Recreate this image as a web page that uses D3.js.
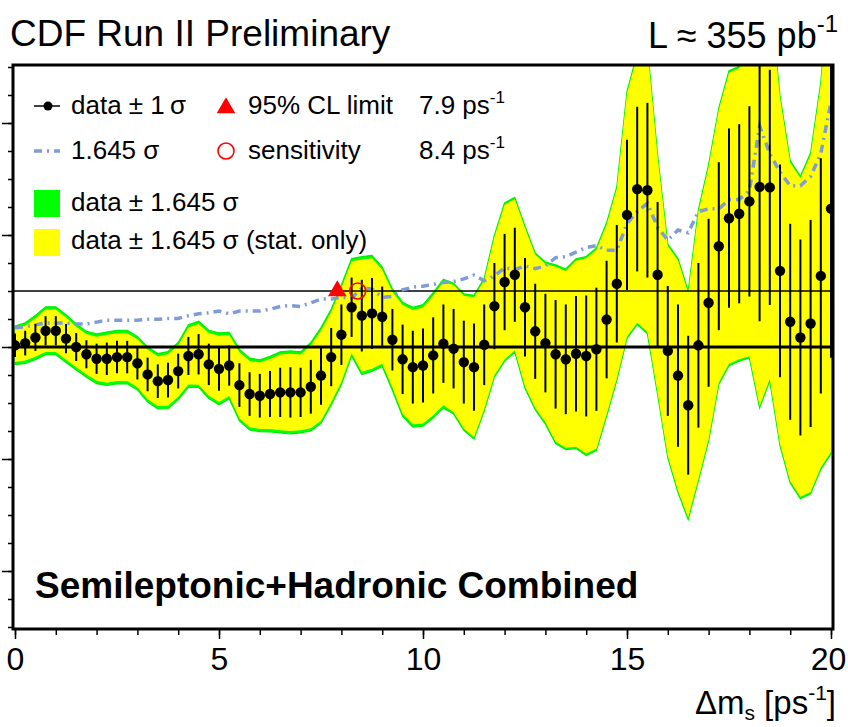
<!DOCTYPE html>
<html>
<head>
<meta charset="utf-8">
<script src="https://cdn.jsdelivr.net/npm/d3@7"></script>
<style>
  body { margin: 0; background: #fff; }
  svg { display: block; }
  text { font-family: "Liberation Sans", Arial, Helvetica, sans-serif; fill: #000; }
</style>
</head>
<body>
<svg id="chart" width="848" height="727"></svg>
<script>
// Amplitude scan: Delta m_s points every 0.25 ps^-1
const dms = d3.range(81).map(i => i * 0.25);

const amplitude = [
  0.03, 0.07, 0.17, 0.29, 0.29, 0.15, 0.00, -0.13, -0.21, -0.21,
  -0.18, -0.18, -0.29, -0.49, -0.61, -0.59, -0.43, -0.16, -0.13, -0.31,
  -0.39, -0.33, -0.68, -0.84, -0.87, -0.84, -0.81, -0.81, -0.81, -0.71,
  -0.51, -0.18, 0.22, 0.71, 0.56, 0.60, 0.54, 0.13, -0.22, -0.36,
  -0.33, -0.15, 0.06, -0.03, -0.27, -0.36, 0.04, 0.73, 1.16, 1.29,
  0.71, 0.28, 0.07, -0.13, -0.22, -0.12, -0.16, -0.04, 0.49, 1.13,
  2.36, 2.82, 2.80, 1.29, -0.07, -0.51, -1.04, 0.03, 0.79, 1.80,
  2.30, 2.38, 2.60, 2.86, 2.85, 1.36, 0.45, 0.17, 0.42, 1.27,
  2.47
];

// total uncertainty (stat + syst)
const sigmaTot = [
  0.21, 0.22, 0.24, 0.26, 0.26, 0.26, 0.25, 0.25, 0.27, 0.29,
  0.29, 0.29, 0.29, 0.30, 0.30, 0.31, 0.31, 0.34, 0.36, 0.37,
  0.39, 0.36, 0.39, 0.39, 0.39, 0.41, 0.44, 0.45, 0.44, 0.48,
  0.52, 0.52, 0.54, 0.53, 0.64, 0.63, 0.54, 0.55, 0.62, 0.65,
  0.66, 0.68, 0.70, 0.71, 0.74, 0.78, 0.72, 0.77, 0.86, 0.84,
  0.88, 0.85, 0.88, 0.97, 0.98, 1.03, 1.08, 1.10, 1.05, 1.05,
  1.34, 1.47, 1.56, 1.30, 1.16, 1.27, 1.24, 1.47, 1.50, 1.50,
  1.60, 1.60, 1.70, 2.40, 2.10, 1.90, 1.75, 1.75, 1.85, 2.10,
  2.66
];

// statistical uncertainty only
const sigmaStat = [
  0.18, 0.19, 0.21, 0.23, 0.23, 0.23, 0.22, 0.22, 0.24, 0.26,
  0.26, 0.26, 0.26, 0.27, 0.27, 0.28, 0.28, 0.31, 0.33, 0.34,
  0.36, 0.33, 0.36, 0.36, 0.36, 0.38, 0.41, 0.42, 0.41, 0.45,
  0.49, 0.49, 0.51, 0.50, 0.61, 0.60, 0.51, 0.52, 0.59, 0.62,
  0.63, 0.65, 0.67, 0.69, 0.72, 0.76, 0.70, 0.75, 0.84, 0.82,
  0.86, 0.83, 0.86, 0.95, 0.96, 1.01, 1.06, 1.08, 1.03, 1.03,
  1.32, 1.45, 1.54, 1.28, 1.14, 1.25, 1.22, 1.45, 1.48, 1.48,
  1.58, 1.58, 1.68, 2.38, 2.08, 1.88, 1.73, 1.73, 1.83, 2.08,
  2.64
];

const limit95 = 7.9;       // 95% CL limit, ps^-1
const sensitivity = 8.4;   // sensitivity, ps^-1
const xTicksMajor = [0, 5, 10, 15, 20];
const xTicksMinor = d3.range(0, 21, 1);
const yTicksMajor = [-4, -2, 0, 2, 4];
const yTicksMinor = d3.range(-5, 5.01, 0.5);
const K = 1.645;

const svg = d3.select("#chart");
const frame = { left: 13, right: 833, top: 65, bottom: 629 };

const x = d3.scaleLinear().domain([0, 20]).range([15, 831]);
const y = d3.scaleLinear().domain([-5, 5]).range([627, 67]);

const rows = dms.map((d, i) => ({ x: d, a: amplitude[i], s: sigmaTot[i], st: sigmaStat[i] }));

svg.append("defs").append("clipPath").attr("id", "plotclip")
  .append("rect")
  .attr("x", frame.left).attr("y", frame.top)
  .attr("width", frame.right - frame.left).attr("height", frame.bottom - frame.top);

const g = svg.append("g").attr("clip-path", "url(#plotclip)");

// bands: total (green) under stat-only (yellow)
const areaTot = d3.area().x(d => x(d.x)).y0(d => y(d.a - K * d.s)).y1(d => y(d.a + K * d.s));
const areaStat = d3.area().x(d => x(d.x)).y0(d => y(d.a - K * d.st)).y1(d => y(d.a + K * d.st));
g.append("path").datum(rows).attr("d", areaTot)
  .attr("fill", "#00ff00").attr("stroke", "#00ee00").attr("stroke-width", 1.2);
g.append("path").datum(rows).attr("d", areaStat).attr("fill", "#ffff00");

// reference lines at amplitude 1 and 0
g.append("line").attr("x1", frame.left).attr("x2", frame.right)
  .attr("y1", y(1)).attr("y2", y(1)).attr("stroke", "#000").attr("stroke-width", 1.3);
g.append("line").attr("x1", frame.left).attr("x2", frame.right)
  .attr("y1", y(0)).attr("y2", y(0)).attr("stroke", "#000").attr("stroke-width", 3);

// 1.645 sigma curve
g.append("path").datum(rows)
  .attr("d", d3.line().x(d => x(d.x)).y(d => y(K * d.s)))
  .attr("fill", "none").attr("stroke", "#7f9cd6").attr("stroke-width", 3.5)
  .attr("stroke-dasharray", "8,5,2,5");

// error bars and points
g.selectAll("line.err").data(rows).join("line").attr("class", "err")
  .attr("x1", d => x(d.x)).attr("x2", d => x(d.x))
  .attr("y1", d => y(d.a - d.s)).attr("y2", d => y(d.a + d.s))
  .attr("stroke", "#000").attr("stroke-width", 2);
g.selectAll("circle.pt").data(rows).join("circle").attr("class", "pt")
  .attr("cx", d => x(d.x)).attr("cy", d => y(d.a)).attr("r", 5.2).attr("fill", "#000");

// limit and sensitivity markers
g.append("path").attr("d", d3.symbol(d3.symbolTriangle, 150)())
  .attr("transform", `translate(${x(limit95)},${y(1)})`).attr("fill", "#ff0000");
g.append("circle").attr("cx", x(sensitivity)).attr("cy", y(1)).attr("r", 8)
  .attr("fill", "none").attr("stroke", "#ff0000").attr("stroke-width", 1.6);

// frame
svg.append("rect").attr("x", frame.left).attr("y", frame.top)
  .attr("width", frame.right - frame.left).attr("height", frame.bottom - frame.top)
  .attr("fill", "none").attr("stroke", "#000").attr("stroke-width", 3);

// x axis
const xAxisMinor = d3.axisBottom(x).tickValues(xTicksMinor).tickSize(6).tickFormat("");
const xAxisMajor = d3.axisBottom(x).tickValues(xTicksMajor).tickSize(10).tickPadding(8).tickFormat(d3.format("d"));
[xAxisMinor, xAxisMajor].forEach(ax => {
  const a = svg.append("g").attr("transform", `translate(0,${frame.bottom})`).call(ax);
  a.select(".domain").remove();
  a.selectAll(".tick line").attr("stroke", "#000").attr("stroke-width", 1.5);
  a.selectAll(".tick text").attr("font-size", 32).attr("font-family", "Liberation Sans, Arial, sans-serif").attr("fill", "#000")
    .attr("dx", d => (d === 20 ? -3 : 0));
});

// y axis: ticks only
const yAxisMinor = d3.axisLeft(y).tickValues(yTicksMinor).tickSize(5).tickFormat("");
const yAxisMajor = d3.axisLeft(y).tickValues(yTicksMajor).tickSize(11).tickFormat("");
[yAxisMinor, yAxisMajor].forEach(ax => {
  const a = svg.append("g").attr("transform", `translate(${frame.left},0)`).call(ax);
  a.select(".domain").remove();
  a.selectAll(".tick line").attr("stroke", "#000").attr("stroke-width", 1.5);
});

// axis title
const xt = svg.append("text").attr("x", 836).attr("y", 714).attr("text-anchor", "end").attr("font-size", 33);
xt.append("tspan").text("\u0394m");
xt.append("tspan").attr("font-size", 21).attr("dy", 6).text("s");
xt.append("tspan").attr("dy", -6).text(" [ps");
xt.append("tspan").attr("font-size", 21).attr("dy", -14).text("-1");
xt.append("tspan").attr("dy", 14).text("]");

// headers
svg.append("text").attr("x", 10).attr("y", 46).attr("font-size", 37).text("CDF Run II Preliminary");
const lum = svg.append("text").attr("x", 838).attr("y", 48).attr("text-anchor", "end").attr("font-size", 36);
lum.append("tspan").text("L \u2248 355 pb");
lum.append("tspan").attr("font-size", 24).attr("dy", -16).text("-1");

svg.append("text").attr("x", 35).attr("y", 598).attr("font-size", 37).attr("font-weight", "bold")
  .text("Semileptonic+Hadronic Combined");

// legend
const lg = svg.append("g");
const fs = 26;
function label(xp, yp, parts) {
  const t = lg.append("text").attr("x", xp).attr("y", yp).attr("font-size", fs);
  parts.forEach(p => {
    const ts = t.append("tspan").text(p.t);
    if (p.sup) ts.attr("font-size", 17).attr("dy", -11);
  });
}
// row 1
lg.append("line").attr("x1", 34).attr("x2", 60).attr("y1", 106).attr("y2", 106).attr("stroke", "#000").attr("stroke-width", 1.5);
lg.append("circle").attr("cx", 48).attr("cy", 106).attr("r", 4.5).attr("fill", "#000");
label(71, 114, [{ t: "data \u00b1 1\u2009\u03c3" }]);
lg.append("path").attr("d", d3.symbol(d3.symbolTriangle, 150)()).attr("transform", "translate(226,108)").attr("fill", "#ff0000");
label(248, 114, [{ t: "95% CL limit" }]);
label(419, 114, [{ t: "7.9 ps" }, { t: "-1", sup: true }]);
// row 2
lg.append("line").attr("x1", 34).attr("x2", 60).attr("y1", 151).attr("y2", 151)
  .attr("stroke", "#7f9cd6").attr("stroke-width", 3.5).attr("stroke-dasharray", "8,5,2,5");
label(71, 159, [{ t: "1.645 \u03c3" }]);
lg.append("circle").attr("cx", 226).attr("cy", 151).attr("r", 8).attr("fill", "none").attr("stroke", "#ff0000").attr("stroke-width", 1.6);
label(248, 159, [{ t: "sensitivity" }]);
label(419, 159, [{ t: "8.4 ps" }, { t: "-1", sup: true }]);
// rows 3-4
lg.append("rect").attr("x", 34).attr("y", 190).attr("width", 26).attr("height", 27).attr("fill", "#00ff00");
label(71, 211, [{ t: "data \u00b1 1.645 \u03c3" }]);
lg.append("rect").attr("x", 34).attr("y", 229).attr("width", 26).attr("height", 27).attr("fill", "#ffff00");
label(71, 249, [{ t: "data \u00b1 1.645 \u03c3 (stat. only)" }]);
</script>
</body>
</html>
